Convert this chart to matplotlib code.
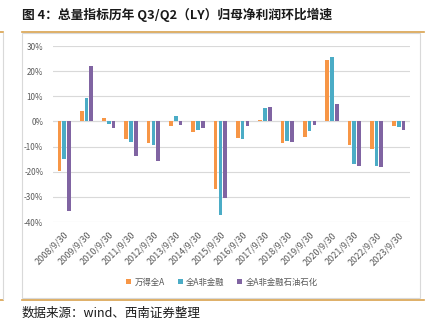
import matplotlib.pyplot as plt
import numpy as np
from matplotlib.lines import Line2D
from matplotlib.patches import Rectangle

plt.rcParams['font.family'] = ['Noto Sans CJK SC', 'DejaVu Sans']

dates = ['2008/9/30', '2009/9/30', '2010/9/30', '2011/9/30', '2012/9/30', '2013/9/30',
         '2014/9/30', '2015/9/30', '2016/9/30', '2017/9/30', '2018/9/30', '2019/9/30',
         '2020/9/30', '2021/9/30', '2022/9/30', '2023/9/30']
wind_all_a = [-19.9, 4.0, 1.3, -6.8, -8.4, -1.7, -4.4, -26.9, -6.5, 0.7, -8.5, -6.3, 24.5, -9.5, -11.1, -1.7]
all_a_nonfin = [-15.1, 9.2, -0.9, -8.1, -9.2, 2.1, -3.6, -37.2, -6.8, 5.5, -7.7, -3.9, 25.7, -16.9, -17.9, -2.4]
all_a_nonfin_ex_oil = [-35.5, 22.0, -2.7, -13.7, -15.6, -1.5, -2.8, -30.3, -1.9, 5.7, -8.3, -1.5, 7.1, -17.6, -18.0, -3.6]
series_names = ['万得全A', '全A非金融', '全A非金融石油石化']
colors = ['#F79646', '#4BACC6', '#8064A2']

W, H = 433, 332
fig = plt.figure(figsize=(W / 100, H / 100), dpi=100)

# frame decorations (px -> figure coords)
def fx(x):
    return x / W

def fy(y):
    return 1 - y / H

orange = '#D9A24E'
fig.add_artist(Line2D([fx(22), fx(424)], [fy(32), fy(32)], color=orange, lw=1.2))
fig.add_artist(Line2D([fx(22), fx(424)], [fy(300), fy(300)], color=orange, lw=1.2))
fig.add_artist(Line2D([0, fx(3)], [fy(32), fy(32)], color=orange, lw=1.2))
fig.add_artist(Line2D([0, fx(3)], [fy(300), fy(300)], color=orange, lw=1.2))
fig.add_artist(Line2D([fx(3), fx(3)], [fy(33), fy(299)], color='#D9D9D9', lw=0.8))
fig.add_artist(Rectangle((fx(22), fy(298)), fx(420) - fx(22), fy(33) - fy(298),
                         fill=False, edgecolor='#D9D9D9', lw=0.8))

fig.text(fx(22), fy(15), '图 4：总量指标历年 Q3/Q2（LY）归母净利润环比增速',
         fontsize=9.2, fontweight='bold', va='center', ha='left', color='#1a1a1a')
fig.text(fx(22), fy(313), '数据来源：wind、西南证券整理', fontsize=9,
         style='italic', va='center', ha='left', color='#1a1a1a')

ax = fig.add_axes([fx(53), fy(222), fx(410) - fx(53), fy(46) - fy(222)])
x = np.arange(len(dates))
w = 0.165
off = 0.215
for i, (vals, name, c) in enumerate(zip([wind_all_a, all_a_nonfin, all_a_nonfin_ex_oil], series_names, colors)):
    ax.bar(x + (i - 1) * off, vals, width=w, color=c, label=name, zorder=3)

ax.set_xlim(-0.5, len(dates) - 0.5)
ax.set_ylim(-40, 30)
ax.set_yticks(range(-40, 31, 10))
ax.set_yticklabels([f'{v}%' for v in range(-40, 31, 10)])
ax.yaxis.grid(True, color='#D9D9D9', lw=0.8, zorder=0)
ax.axhline(0, color='#D9D9D9', lw=0.8, zorder=1)
for s in ax.spines.values():
    s.set_visible(False)
ax.tick_params(axis='y', length=0, labelsize=5.8, labelcolor='#595959', pad=7)
ax.set_xticks(x)
ax.set_xticklabels(dates, rotation=45, ha='right', rotation_mode='anchor')
ax.tick_params(axis='x', length=0, labelsize=6.5, labelcolor='#595959', pad=6)

fig.legend(loc='center', bbox_to_anchor=(fx(222), fy(282)), ncol=3, frameon=False,
           fontsize=6, handlelength=0.6, handleheight=0.6, handletextpad=0.4,
           columnspacing=1.5, labelcolor='#595959')

fig.savefig('out.png', dpi=100)
